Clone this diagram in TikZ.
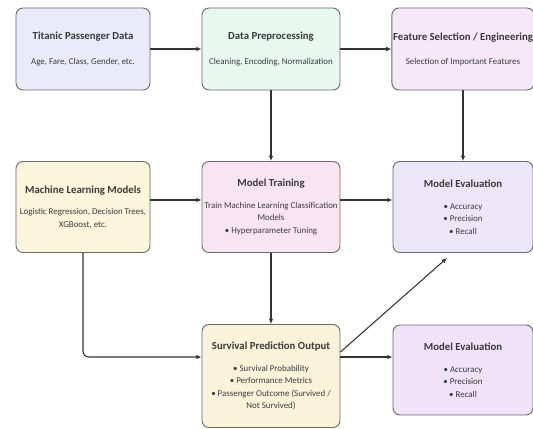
\documentclass[tikz,border=0pt]{standalone}
\usepackage{fontspec}
\setmainfont{Carlito}
\usetikzlibrary{arrows.meta}

\definecolor{boxline}{HTML}{6A6A6A}
\definecolor{wire}{HTML}{333333}
\definecolor{txt}{HTML}{3A3A3A}
\definecolor{fillblue}{HTML}{E9EBF9}
\definecolor{fillmint}{HTML}{E7F8EE}
\definecolor{fillpink}{HTML}{F5E8F8}
\definecolor{fillyellow}{HTML}{FAF5DB}
\definecolor{fillrose}{HTML}{F9E4F3}
\definecolor{filllilac}{HTML}{ECE6F9}
\definecolor{fillcream}{HTML}{FAF3DA}
\definecolor{fillviolet}{HTML}{EFE2F9}

\newcommand{\boxtitle}[1]{{\fontsize{9.2}{11}\selectfont\bfseries #1}}

\tikzset{
  box/.style={draw=boxline, line width=0.8pt, rounded corners=6pt, align=center,
    text=txt, inner sep=1pt, font=\fontsize{7.6}{10.6}\selectfont},
  flow/.style={draw=wire, line width=0.9pt, -{Latex[length=4.5pt,width=4pt]}},
}

\begin{document}
\begin{tikzpicture}[x=0.03cm, y=-0.03cm]
			%%%%% START %%%%%
			\useasboundingbox (0,0) rectangle (533,429);
			
			% top row
			\node[box, fill=fillblue, minimum width=4.02cm, minimum height=2.46cm] (data) at (83,49)
				{\boxtitle{Titanic Passenger Data}\\[10pt] Age, Fare, Class, Gender, etc.};
			\node[box, fill=fillmint, minimum width=4.14cm, minimum height=2.46cm] (prep) at (271,49)
				{\boxtitle{Data Preprocessing}\\[10pt] Cleaning, Encoding, Normalization};
			\node[box, fill=fillpink, minimum width=4.2cm, minimum height=2.46cm] (feat) at (463,49)
				{\boxtitle{Feature Selection / Engineering}\\[10pt] Selection of Important Features};
			
			% middle row
			\node[box, fill=fillyellow, minimum width=4.02cm, minimum height=2.73cm] (ml) at (83,207)
				{\boxtitle{Machine Learning Models}\\[8pt] Logistic Regression, Decision Trees,\\ XGBoost, etc.};
			\node[box, fill=fillrose, minimum width=4.14cm, minimum height=2.73cm] (train) at (271,207)
				{\boxtitle{Model Training}\\[8pt] Train Machine Learning Classification\\ Models\\ • Hyperparameter Tuning};
			\node[box, fill=filllilac, minimum width=4.2cm, minimum height=2.73cm] (eval) at (463,207)
				{\boxtitle{Model Evaluation}\\[8pt] • Accuracy\\ • Precision\\ • Recall};
			
			% bottom row
			\node[box, fill=fillcream, minimum width=4.14cm, minimum height=3.09cm] (surv) at (271,376)
				{\boxtitle{Survival Prediction Output}\\[8pt] • Survival Probability\\ • Performance Metrics\\ • Passenger Outcome (Survived /\\ Not Survived)};
			\node[box, fill=fillviolet, minimum width=4.2cm, minimum height=2.7cm] (evaltwo) at (463,370)
				{\boxtitle{Model Evaluation}\\[8pt] • Accuracy\\ • Precision\\ • Recall};
			
			% arrows
			\draw[flow] (data.east) -- (prep.west);
			\draw[flow] (prep.east) -- (feat.west);
			\draw[flow] (prep.south) -- (train.north);
			\draw[flow] (feat.south) -- (eval.north);
			
			\draw[flow] ([yshift=0.21cm]ml.east) -- ([yshift=0.21cm]train.west);
			\draw[flow] ([yshift=0.21cm]train.east) -- ([yshift=0.21cm]train.east -| eval.west);
			\draw[flow] (train.south) -- (surv.north);
			
			\draw[flow, rounded corners=5pt] (ml.south) |- ([yshift=0.57cm]surv.west);
			\draw[flow] ([yshift=0.57cm]surv.east) -- ([yshift=0.57cm]surv.east -| evaltwo.west);
			\draw[flow] ([yshift=0.72cm]surv.east) -- ([xshift=-0.48cm,yshift=-0.15cm]eval.south);
			
			%%%%% END %%%%%
		\end{tikzpicture}
\end{document}
